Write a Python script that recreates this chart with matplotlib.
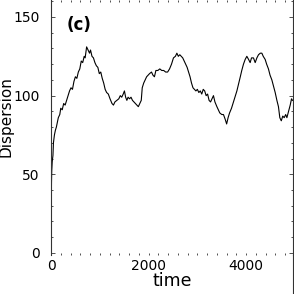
import matplotlib
matplotlib.use("Agg")
import matplotlib.pyplot as plt
from matplotlib.ticker import MultipleLocator, FixedLocator
from matplotlib.lines import Line2D

time = [0, 5, 10, 15, 25, 40, 50, 70, 90, 110, 130, 150, 180, 200, 230, 260, 290,
        320, 350, 380, 410, 440, 470, 500, 530, 560, 590, 620, 650, 680, 700, 730,
        760, 790, 810, 840, 870, 900, 930, 960, 990, 1020, 1050, 1080, 1110, 1140,
        1175, 1210, 1250, 1280, 1310, 1350, 1390, 1420, 1450, 1480, 1505, 1530,
        1555, 1580, 1610, 1640, 1670, 1700, 1730, 1760, 1790, 1820, 1850, 1870,
        1900, 1930, 1960, 1990, 2020, 2060, 2090, 2120, 2150, 2190, 2230, 2270,
        2310, 2350, 2390, 2430, 2470, 2510, 2550, 2580, 2610, 2640, 2670, 2700,
        2730, 2760, 2790, 2820, 2850, 2880, 2910, 2940, 2970, 3000, 3030, 3060,
        3090, 3120, 3150, 3180, 3210, 3240, 3270, 3300, 3330, 3360, 3400, 3430,
        3460, 3500, 3535, 3570, 3600, 3630, 3660, 3700, 3740, 3780, 3810, 3850,
        3880, 3910, 3945, 3980, 4014, 4050, 4082, 4110, 4150, 4185, 4220, 4253,
        4290, 4322, 4350, 4390, 4420, 4457, 4490, 4527, 4560, 4595, 4630, 4662,
        4690, 4720, 4750, 4780, 4810, 4835, 4870, 4903, 4930, 4950]
dispersion = [0, 30, 45, 52, 58, 62, 70, 75, 78, 80, 83, 86, 88, 92, 91, 95, 94,
              97, 100, 103, 105, 104, 109, 112, 111, 115, 117, 122, 121, 125, 124, 131,
              129, 127, 129, 125, 124, 121, 119, 118, 114, 115, 111, 108, 104, 102,
              101, 98, 95, 94, 96, 97, 98, 100, 99, 101, 103, 99,
              97, 99, 98, 99, 97, 96, 95, 94, 93, 95, 97, 105,
              108, 110, 112, 113, 114, 115, 113, 112, 116, 116, 117, 116,
              116, 115, 115, 117, 120, 124, 125, 127, 125, 126, 125, 124,
              122, 120, 118, 115, 112, 108, 105, 104, 103, 104, 102, 103,
              101, 104, 103, 100, 101, 97, 96, 98, 100, 96, 93, 91,
              89, 88, 88, 85, 82, 86, 89, 92, 96, 100, 103, 108,
              112, 116, 120, 123, 125, 123, 121, 124, 124, 121, 124, 126,
              127, 127, 125, 123, 120, 117, 113, 110, 106, 102, 97, 93,
              86, 84, 87, 86, 88, 86, 90, 94, 98, 97]

x_major = [0, 2000, 4000]
y_major = [0, 50, 100, 150]

W = 294
fig = plt.figure(figsize=(2.94, 2.94), dpi=100)
left = 51 / W
right = 292.5 / W
bottom = 1 - 255 / W
ax = fig.add_axes([left, bottom, right - left, 1 - bottom])

ax.plot(time, dispersion, color="black", lw=0.8)

ax.set_xlim(0, 4950)
ax.set_ylim(-1.3, 160.8)

ax.xaxis.set_major_locator(FixedLocator(x_major))
ax.xaxis.set_minor_locator(MultipleLocator(200))
ax.yaxis.set_major_locator(FixedLocator(y_major))
ax.yaxis.set_minor_locator(MultipleLocator(10))

ax.tick_params(axis="both", which="both", direction="in", top=True, right=True,
               width=0.6, colors="#333333", labelcolor="black")
ax.tick_params(axis="x", which="major", length=1.5, pad=3, labelsize=10)
ax.tick_params(axis="x", which="minor", length=1.2)
ax.tick_params(axis="y", which="major", length=3, pad=8, labelsize=10)
ax.tick_params(axis="y", which="minor", length=1.5)

for s in ["bottom", "top"]:
    ax.spines[s].set_visible(False)
for s in ["left", "right"]:
    ax.spines[s].set_color("#333333")
    ax.spines[s].set_linewidth(0.8)

fig.add_artist(Line2D([right, right], [0, bottom], transform=fig.transFigure,
                      color="#333333", lw=0.8))

fig.text(6 / W, 1 - 117 / W, "Dispersion", rotation=90, ha="center", va="center",
         fontsize=11)
fig.text(172 / W, 1 - 281 / W, "time", ha="center", va="center", fontsize=12.5)
fig.text(79 / W, 1 - 25 / W, "(c)", ha="center", va="center", fontsize=12,
         fontweight="semibold")

fig.savefig("out.png", dpi=100)
